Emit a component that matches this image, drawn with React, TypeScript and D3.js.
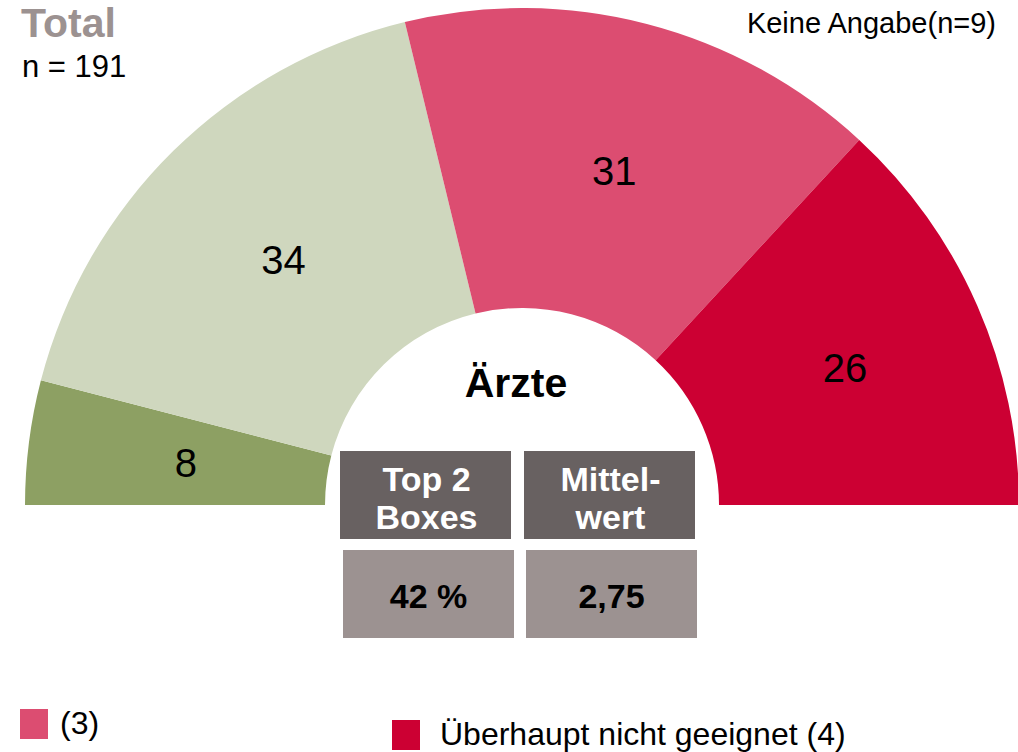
import React, { useEffect, useRef } from 'react';
import * as d3 from 'd3';

// segment values (left to right)
const categories = ['(1)', '(2)', '(3)', '(4)'];
const values = [8, 34, 31, 26];
const colors = ['#8da063', '#cfd7be', '#dc4d71', '#cc0033'];

const legendLabels = ['(3)', 'Überhaupt nicht geeignet (4)'];
const legendColors = ['#dc4d71', '#cc0033'];

const boxHeaders = [['Top 2', 'Boxes'], ['Mittel-', 'wert']];
const boxValues = ['42 %', '2,75'];

const App = () => {
  const ref = useRef<SVGSVGElement>(null);

  useEffect(() => {
    const svg = d3.select(ref.current);
    svg.selectAll('*').remove();
    const font = 'Liberation Sans, Arial, sans-serif';

    // CENTER AND RADII
    const cx = 522, cy = 505;
    const outerR = 497, innerR = 197;

    const pie = d3.pie<number>()
      .sort(null)
      .startAngle(-Math.PI / 2)
      .endAngle(Math.PI / 2);
    const arc = d3.arc<d3.PieArcDatum<number>>()
      .innerRadius(innerR)
      .outerRadius(outerR);

    const g = svg.append('g').attr('transform', `translate(${cx},${cy})`);
    const arcs = pie(values);

    g.selectAll('path.seg')
      .data(arcs)
      .enter()
      .append('path')
      .attr('class', 'seg')
      .attr('d', arc)
      .attr('fill', (d, i) => colors[i]);

    g.selectAll('text.val')
      .data(arcs)
      .enter()
      .append('text')
      .attr('class', 'val')
      .attr('transform', d => `translate(${arc.centroid(d)})`)
      .attr('dx', (d, i) => (i === 0 ? 8 : 5))
      .attr('dy', 2)
      .attr('text-anchor', 'middle')
      .attr('dominant-baseline', 'central')
      .attr('font-family', font)
      .attr('font-size', 40)
      .attr('fill', '#000')
      .text(d => d.data);

    // CENTER TITLE
    svg.append('text')
      .attr('x', 516).attr('y', 397)
      .attr('text-anchor', 'middle')
      .attr('font-family', font)
      .attr('font-size', 41)
      .attr('font-weight', 'bold')
      .text('Ärzte');

    // BOXES
    const headX = [340, 524];
    const valX = [343, 526];
    const bw = 171;
    boxHeaders.forEach((lines, i) => {
      svg.append('rect')
        .attr('x', headX[i]).attr('y', 451)
        .attr('width', bw).attr('height', 88)
        .attr('fill', '#686161');
      lines.forEach((ln, j) => {
        svg.append('text')
          .attr('x', headX[i] + bw / 2 + 1)
          .attr('y', 491 + j * 38)
          .attr('text-anchor', 'middle')
          .attr('font-family', font)
          .attr('font-size', 34)
          .attr('font-weight', 'bold')
          .attr('fill', '#fff')
          .text(ln);
      });
      svg.append('rect')
        .attr('x', valX[i]).attr('y', 550)
        .attr('width', bw).attr('height', 88)
        .attr('fill', '#9c9291');
      svg.append('text')
        .attr('x', valX[i] + bw / 2)
        .attr('y', 608)
        .attr('text-anchor', 'middle')
        .attr('font-family', font)
        .attr('font-size', 34)
        .attr('font-weight', 'bold')
        .attr('fill', '#000')
        .text(boxValues[i]);
    });

    // TOP TEXTS
    svg.append('text')
      .attr('x', 21).attr('y', 37)
      .attr('font-family', font)
      .attr('font-size', 41)
      .attr('font-weight', 'bold')
      .attr('fill', '#9c9291')
      .text('Total');
    svg.append('text')
      .attr('x', 22).attr('y', 77)
      .attr('font-family', font)
      .attr('font-size', 31)
      .text('n = 191');
    svg.append('text')
      .attr('x', 996).attr('y', 33)
      .attr('text-anchor', 'end')
      .attr('font-family', font)
      .attr('font-size', 29)
      .text('Keine Angabe(n=9)');

    // LEGEND
    const legPos = [{ x: 20, y: 709 }, { x: 392, y: 720 }];
    legendLabels.forEach((lab, i) => {
      svg.append('rect')
        .attr('x', legPos[i].x).attr('y', legPos[i].y)
        .attr('width', 28).attr('height', 30)
        .attr('fill', legendColors[i]);
      svg.append('text')
        .attr('x', legPos[i].x + 40 + (i === 0 ? 0 : 8)).attr('y', legPos[i].y + 25)
        .attr('font-family', font)
        .attr('font-size', 32)
        .text(lab);
    });
  }, []);

  return (
    <svg ref={ref} width={1018} height={752}
      style={{ position: 'absolute', left: 0, top: 0, background: '#fff' }} />
  );
};

export default App;
